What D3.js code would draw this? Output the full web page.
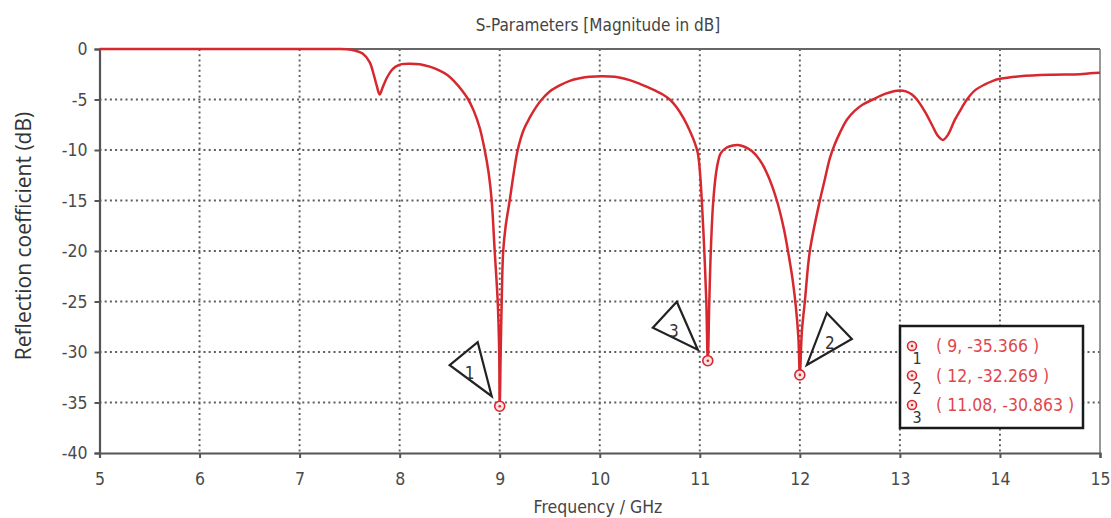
<!DOCTYPE html>
<html lang="en">
<head>
    <meta charset="UTF-8">
    <title>S-Parameters</title>
    <script type="text/javascript" src="https://cdn.jsdelivr.net/npm/d3@7"></script>
    <style>
    body { margin: 0; background: #fff; }
    text { font-family: "DejaVu Sans Condensed", "DejaVu Sans", sans-serif; }
    g.grid line { stroke: #5e5e5e; stroke-width: 1.9; stroke-dasharray: 2,3.2; }
    .curve { fill: none; stroke: #d6282e; stroke-width: 2.5; }
    </style>
</head>
<body>
    <script type="text/javascript">

        // S11 curve (GHz, dB)
        var freq = [5.0, 6.0, 7.0, 7.3, 7.4, 7.47, 7.55, 7.63, 7.7, 7.74, 7.77, 7.8, 7.83, 7.875, 7.92, 7.96, 8.02, 8.1, 8.2, 8.3, 8.4, 8.48, 8.55, 8.62, 8.68, 8.74,
                    8.8, 8.85, 8.89, 8.92, 8.95, 8.98, 8.995, 9.0,
                    9.01, 9.02, 9.035, 9.06, 9.1, 9.14, 9.18, 9.24, 9.3, 9.36, 9.42, 9.5, 9.6, 9.7, 9.8, 9.9, 10.03, 10.15, 10.25, 10.35, 10.45, 10.55,
                    10.63, 10.7, 10.77, 10.84, 10.9, 10.95, 10.98, 11.0, 11.02, 11.045, 11.065, 11.08,
                    11.095, 11.11, 11.135, 11.17, 11.21, 11.27, 11.33, 11.38, 11.44, 11.52, 11.6, 11.68, 11.77, 11.84, 11.89, 11.93, 11.96, 11.985, 12.0,
                    12.02, 12.05, 12.1, 12.2, 12.25, 12.3, 12.35, 12.4, 12.47, 12.55, 12.63, 12.73, 12.85, 12.95, 13.0, 13.06, 13.12, 13.17, 13.25, 13.32,
                    13.38, 13.43, 13.48, 13.55, 13.62, 13.67, 13.75, 13.85, 13.93, 14.0, 14.2, 14.5, 14.8, 14.9, 15.0];
        var s11 = [0, 0, 0, 0, 0, -0.03, -0.15, -0.45, -1.3, -2.5, -3.6, -4.5, -3.8, -2.8, -2.1, -1.75, -1.5, -1.45, -1.5, -1.75, -2.15, -2.6, -3.25, -4.05, -4.9, -6.1,
                   -7.8, -10.0, -12.3, -15, -20, -25, -30, -35.366,
                   -30, -25, -20, -17.5, -15, -12.3, -10, -8.0, -6.8, -5.8, -5.0, -4.2, -3.6, -3.15, -2.9, -2.75, -2.7, -2.75, -2.95, -3.25, -3.65, -4.1,
                   -4.5, -5.0, -5.8, -6.9, -8.1, -9.3, -10.3, -12.0, -15, -20, -25, -30.863,
                   -25, -20, -15, -11.8, -10.3, -9.75, -9.55, -9.5, -9.65, -10.1, -11.0, -12.5, -15, -17.8, -20.5, -23, -25.5, -28.5, -32.269,
                   -28, -25, -20, -15, -12.9, -10.8, -9.4, -8.3, -7.0, -6.1, -5.5, -5.0, -4.45, -4.15, -4.1, -4.2, -4.5, -5.0, -6.2, -7.5,
                   -8.6, -9.0, -8.5, -7.0, -5.8, -5.0, -4.1, -3.5, -3.15, -2.95, -2.7, -2.55, -2.5, -2.4, -2.35];

        var markerIds = ["1", "2", "3"];
        var markerFreq = [9, 12, 11.08];
        var markerVal = [-35.366, -32.269, -30.863];

        var xTicks = [5, 6, 7, 8, 9, 10, 11, 12, 13, 14, 15];
        var yTicks = [0, -5, -10, -15, -20, -25, -30, -35, -40];

        var width = 1111;
        var height = 518;

        var x = d3.scaleLinear().domain([5, 15]).range([99.5, 1100]);
        var y = d3.scaleLinear().domain([-40, 0]).range([453, 49]);

        var svg = d3.select("body").append("svg").attr("width", width).attr("height", height);

        // grid
        var grid = svg.append("g").attr("class", "grid");
        grid.selectAll("line.v").data(xTicks.slice(1, -1)).enter().append("line")
            .attr("x1", function(d){ return x(d); }).attr("x2", function(d){ return x(d); })
            .attr("y1", y(0)).attr("y2", y(-40));
        grid.selectAll("line.h").data(yTicks.slice(1, -1)).enter().append("line")
            .attr("x1", x(5)).attr("x2", x(15))
            .attr("y1", function(d){ return y(d); }).attr("y2", function(d){ return y(d); });

        // frame: top and right thin, left and bottom heavier
        svg.append("line").attr("x1", x(5)).attr("x2", x(15)).attr("y1", y(0)).attr("y2", y(0))
            .attr("stroke", "#666").attr("stroke-width", 2);
        svg.append("line").attr("x1", x(15)).attr("x2", x(15)).attr("y1", y(0)).attr("y2", y(-40))
            .attr("stroke", "#777").attr("stroke-width", 1.5);

        var xAxis = svg.append("g").attr("transform", "translate(0," + y(-40) + ")")
            .call(d3.axisBottom(x).tickValues(xTicks).tickSize(5).tickPadding(15).tickFormat(d3.format("d")));
        var yAxis = svg.append("g").attr("transform", "translate(" + x(5) + ",0)")
            .call(d3.axisLeft(y).tickValues(yTicks).tickSize(5).tickPadding(7).tickFormat(function(d){ return d < 0 ? "-" + (-d) : d; }));
        [xAxis, yAxis].forEach(function(a){
            a.select(".domain").attr("stroke", "#555").attr("stroke-width", 2.2);
            a.selectAll(".tick line").attr("stroke", "#555").attr("stroke-width", 2);
            a.selectAll(".tick text").attr("fill", "#4a4a4a").attr("font-size", null).style("font-size", "17.5px");
        });

        // curve
        var line = d3.line()
            .x(function(d, i){ return x(freq[i]); })
            .y(function(d){ return y(d); })
            .curve(d3.curveCatmullRom.alpha(0.5));
        svg.append("path").attr("class", "curve").attr("d", line(s11));

        // marker callouts (triangles pointing at each marker)
        var callouts = {
            "1": {pts: [[-50, -41], [-22, -64], [-8, -10]], lbl: [-30, -33]},
            "2": {pts: [[27, -62], [52, -36], [7, -10]], lbl: [30, -32]},
            "3": {pts: [[-55, -33], [-31, -59], [-10, -11]], lbl: [-34, -30]}
        };
        var mk = svg.append("g");
        markerIds.forEach(function(id, i){
            var px = x(markerFreq[i]), py = y(markerVal[i]);
            var c = callouts[id];
            mk.append("path")
                .attr("d", "M" + c.pts.map(function(p){ return [px + p[0], py + p[1]]; }).join("L") + "Z")
                .attr("fill", "none").attr("stroke", "#222").attr("stroke-width", 2.2).attr("stroke-linejoin", "miter");
            mk.append("text").attr("x", px + c.lbl[0]).attr("y", py + c.lbl[1] + 6)
                .attr("text-anchor", "middle").attr("fill", "#333").style("font-size", "17px").text(id);
            mk.append("circle").attr("cx", px).attr("cy", py).attr("r", 5)
                .attr("fill", "#fbe4e4").attr("stroke", "#d6282e").attr("stroke-width", 1.6);
            mk.append("circle").attr("cx", px).attr("cy", py).attr("r", 1.3).attr("fill", "#d6282e");
        });

        // marker legend box
        var lg = svg.append("g").attr("transform", "translate(900,326)");
        lg.append("rect").attr("width", 183).attr("height", 102)
            .attr("fill", "#fff").attr("stroke", "#1a1a1a").attr("stroke-width", 2.5);
        markerIds.forEach(function(id, i){
            var ry = 20 + i * 29.5;
            lg.append("circle").attr("cx", 12).attr("cy", ry).attr("r", 4.5)
                .attr("fill", "#fbe4e4").attr("stroke", "#d6282e").attr("stroke-width", 1.6);
            lg.append("circle").attr("cx", 12).attr("cy", ry).attr("r", 1.2).attr("fill", "#d6282e");
            lg.append("text").attr("x", 17).attr("y", ry + 18).attr("text-anchor", "middle")
                .attr("fill", "#333").style("font-size", "16px").text(id);
            lg.append("text").attr("x", 36).attr("y", ry + 6)
                .attr("fill", "#e0474c").style("font-size", "17.5px")
                .text("( " + markerFreq[i] + ", " + markerVal[i] + " )");
        });

        // titles
        svg.append("text").attr("x", 598).attr("y", 31).attr("text-anchor", "middle")
            .attr("fill", "#444").style("font-size", "17px").text("S-Parameters [Magnitude in dB]");
        svg.append("text").attr("x", 598).attr("y", 513).attr("text-anchor", "middle")
            .attr("fill", "#444").style("font-size", "17.5px").text("Frequency / GHz");
        svg.append("text").attr("transform", "translate(31,236) rotate(-90)").attr("text-anchor", "middle")
            .attr("fill", "#333").style("font-family", "'Open Sans', sans-serif").style("font-size", "21px")
            .text("Reflection coefficient (dB)");

    </script>
</body>
</html>
